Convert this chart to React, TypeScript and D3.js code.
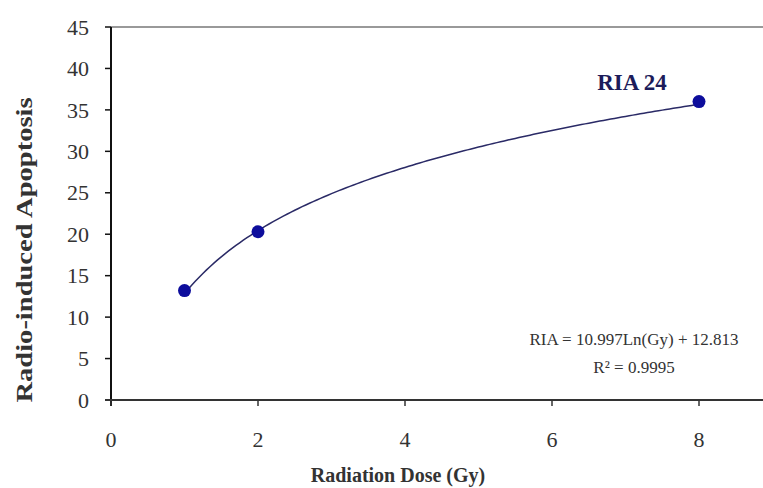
import React from "react";
import * as d3 from "d3";

const doses = [1, 2, 8];
const apoptosis = [13.2, 20.3, 36.0];
const xTicks = [0, 2, 4, 6, 8];
const yTicks = [0, 5, 10, 15, 20, 25, 30, 35, 40, 45];
const trendA = 10.997;
const trendB = 12.813;
const trendSampleX = d3.range(1, 8.001, 0.05);

const W = 763;
const H = 488;
const L = 111;
const T = 27;
const B = 400;

export default function App() {
  const x = d3.scaleLinear().domain([0, 8]).range([L, 699]);
  const y = d3.scaleLinear().domain([0, 45]).range([B, T]);
  const line = d3
    .line<number>()
    .x((d) => x(d))
    .y((d) => y(trendA * Math.log(d) + trendB))
    .curve(d3.curveLinear);
  const serif = "'Liberation Serif', 'Times New Roman', serif";
  return (
    <svg width={W} height={H} style={{ position: "absolute", left: 0, top: 0, background: "#fff" }}>
      <rect x={0} y={0} width={W} height={H} fill="#fff" />
      {/* top border */}
      <line x1={L} x2={W} y1={T} y2={T} stroke="#777" strokeWidth={1.5} />
      {/* y axis */}
      <line x1={L} x2={L} y1={T} y2={B + 6} stroke="#111" strokeWidth={2} />
      {yTicks.map((t) => (
        <g key={"y" + t}>
          <line x1={L - 6} x2={L} y1={y(t)} y2={y(t)} stroke="#111" strokeWidth={1.5} />
          <text x={89} y={y(t)} dy="0.35em" textAnchor="end" fontFamily={serif} fontSize={22} fill="#333">
            {t}
          </text>
        </g>
      ))}
      {/* x axis */}
      <line x1={L - 6} x2={W} y1={B} y2={B} stroke="#333" strokeWidth={2} />
      {xTicks.map((t) => (
        <g key={"x" + t}>
          <line x1={x(t)} x2={x(t)} y1={B} y2={B + 6} stroke="#333" strokeWidth={1.5} />
          <text x={x(t)} y={447} textAnchor="middle" fontFamily={serif} fontSize={22} fill="#333">
            {t}
          </text>
        </g>
      ))}
      {/* trend line */}
      <path d={line(trendSampleX) || ""} fill="none" stroke="#2a2a66" strokeWidth={1.5} />
      {doses.map((d, i) => (
        <circle key={"p" + i} cx={x(d)} cy={y(apoptosis[i])} r={6.5} fill="#0d0d9c" />
      ))}
      <text x={632} y={90} textAnchor="middle" fontFamily={serif} fontSize={23} fontWeight="bold" fill="#1c1c5a">
        RIA 24
      </text>
      <text x={634} y={345} textAnchor="middle" fontFamily={serif} fontSize={17} fill="#333">
        RIA = 10.997Ln(Gy) + 12.813
      </text>
      <text x={634} y={373} textAnchor="middle" fontFamily={serif} fontSize={17} fill="#333">
        R² = 0.9995
      </text>
      <text x={398} y={482} textAnchor="middle" fontFamily={serif} fontSize={20} fontWeight="bold" fill="#333">
        Radiation Dose (Gy)
      </text>
      <text
        transform={`translate(32, 250) rotate(-90)`}
        textAnchor="middle"
        fontFamily={serif}
        fontSize={24}
        fontWeight="bold"
        fill="#333"
        textLength={305}
        lengthAdjust="spacingAndGlyphs"
      >
        Radio-induced Apoptosis
      </text>
    </svg>
  );
}
